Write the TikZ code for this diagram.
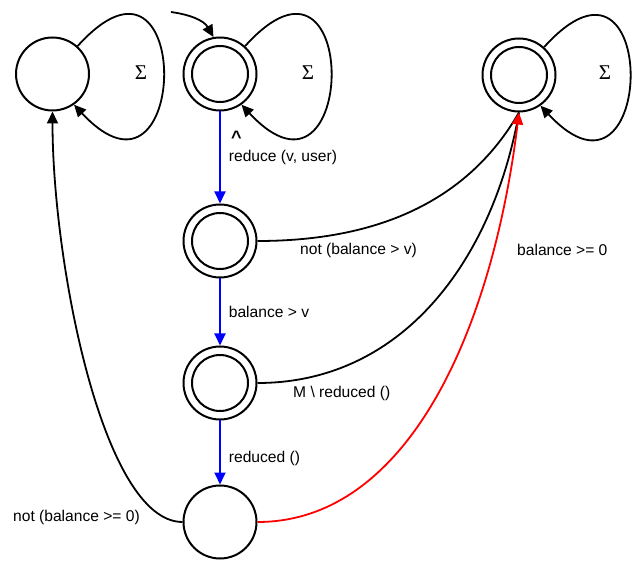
\documentclass[tikz,border=0pt]{standalone}
\usepackage{fontspec}
\setmainfont{Liberation Sans}
\newfontfamily\sigmafont{Liberation Serif}
\usetikzlibrary{positioning,arrows.meta}
\definecolor{colorstep}{RGB}{0,0,255}
\definecolor{colorok}   {RGB}{255,0,0}

\begin{document}
\begin{tikzpicture}[
    x=1pt, y=1pt,
    font={\fontsize{15.6}{18}\selectfont},
    state/.style={circle,draw,line width=2pt,minimum size=73pt,inner sep=0pt},
    accept/.style={state,path picture={\draw[line width=2pt] (path picture bounding box.center) circle (28pt);}},
    trans/.style={line width=1.8pt,-{Triangle[length=12pt,width=11pt]}},
    plain/.style={line width=1.8pt},
    cond/.style={inner sep=0pt,text=black},
    sigma/.style={font={\sigmafont\fontsize{21}{21}\selectfont}},
]
    \useasboundingbox (0,0) rectangle (635,563);

    % states
    \node[state]  (q0) at (52.5,489) {};
    \node[accept] (q1) at (220,489) {};
    \node[accept] (q2) at (519,488) {};
    \node[accept] (q3) at (220,322) {};
    \node[accept] (q4) at (220,180) {};
    \node[state]  (q5) at (220,41) {};

    % start arrow
    \coordinate (start) at (171,551);
    \draw[trans] (start) to[out=-8,in=120] (q1.100);

    % self loops
    \draw[trans] (q0.48) .. controls +(48:175) and +(-47:170) .. (q0.-55);
    \draw[trans] (q1.48) .. controls +(48:175) and +(-47:170) .. (q1.-55);
    \draw[trans] (q2.48) .. controls +(48:175) and +(-47:170) .. (q2.-55);
    \node[sigma] (s0) at (141,490) {Σ};
    \node[sigma] (s1) at (308,490) {Σ};
    \node[sigma] (s2) at (605,490) {Σ};

    % main path
    \draw[trans,colorstep] (q1) -- node[cond,right=8pt] (c1) {reduce (v, user)} (q3);
    \draw[trans,colorstep] (q3) -- node[cond,right=8pt] (c2) {balance > v} (q4);
    \draw[trans,colorstep] (q4) -- node[cond,right=8pt,pos=0.6] (c3) {reduced ()} (q5);
    \node[cond,font={\fontsize{18}{18}\selectfont\bfseries}] (hat) at (236.5,425.5) {\textasciicircum};

    % back to the accepting sink
    \draw[plain] (q3.east) .. controls +(110,0) and +(-120:110) .. (q2.south);
    \draw[plain] (q4.east) .. controls +(147,0) and +(-100:147) .. (q2.south);
    \draw[trans,colorok] (q5.east) .. controls +(150,0) and +(-97:220) .. (q2.south);
    \draw[trans] (q5.west) .. controls +(-80,0) and +(0,-150) .. (q0.south);

    \node[cond,anchor=west] (c4) at (300,313) {not (balance > v)};
    \node[cond,anchor=west] (c5) at (293,170) {M \textbackslash{} reduced ()};
    \node[cond,anchor=west] (c6) at (517,313) {balance >= 0};
    \node[cond,anchor=west] (c7) at (13,46) {not (balance >= 0)};
\end{tikzpicture}
\end{document}
